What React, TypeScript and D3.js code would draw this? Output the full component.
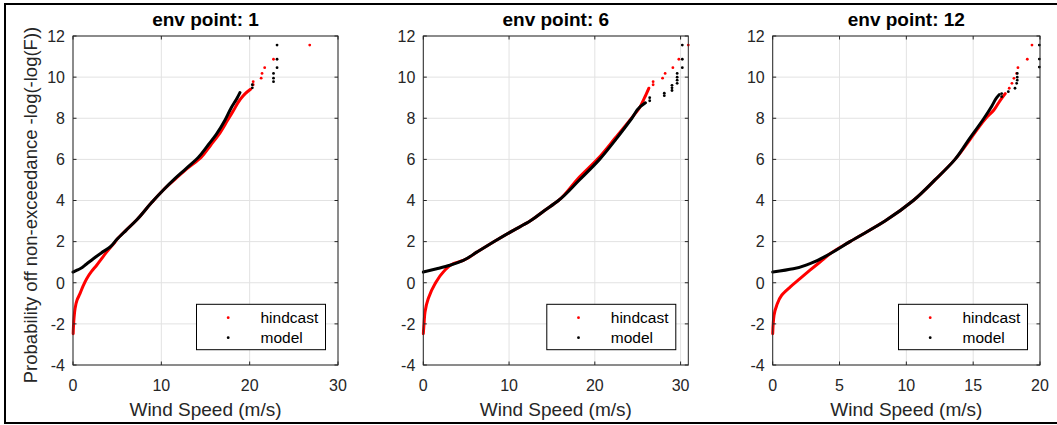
import React from 'react';
import * as d3 from 'd3';

type Pt = [number, number];

// ---------- data ----------
const titles = ['env point: 1', 'env point: 6', 'env point: 12'];
const xMaxes = [30, 30.9, 20];
const xTickValues = [
  [0, 10, 20, 30],
  [0, 10, 20, 30],
  [0, 5, 10, 15, 20],
];
const yTickValues = [-4, -2, 0, 2, 4, 6, 8, 10, 12];
const seriesNames = ['hindcast', 'model'];
const seriesColors = ['#ff0000', '#000000'];

// env point 1
const hindcast1Line: Pt[] = [
  [0.02, -2.48], [0.11, -1.75], [0.23, -1.26], [0.45, -0.85], [0.79, -0.53], [1.15, -0.15],
  [1.55, 0.2], [2.1, 0.55], [2.68, 0.85], [3.2, 1.15], [3.8, 1.49], [4.3, 1.75], [4.76, 1.98],
  [5.0, 2.12], [6.0, 2.55], [7.2, 3.05], [8.9, 3.9], [10.2, 4.5], [11.6, 5.05], [12.9, 5.55],
  [14.5, 6.1], [15.6, 6.7], [16.5, 7.2], [17.5, 7.9], [18.2, 8.4], [18.9, 8.9], [19.5, 9.2],
  [20.1, 9.41],
];
const hindcast1Tail: Pt[] = [
  [20.4, 9.63], [20.4, 9.78], [21.3, 9.95], [21.4, 10.18], [21.7, 10.46], [22.7, 10.87], [26.8, 11.56],
];
const model1Line: Pt[] = [
  [0, 0.52], [0.4, 0.6], [0.8, 0.68], [1.5, 0.9], [2.3, 1.17], [3.2, 1.45], [4.2, 1.74],
  [4.95, 2.1], [6.0, 2.55], [7.2, 3.05], [8.9, 3.9], [10.2, 4.5], [11.5, 5.05], [12.8, 5.55],
  [14.2, 6.1], [15.3, 6.7], [16.2, 7.2], [17.2, 7.9], [17.9, 8.5], [18.6, 9.0], [18.9, 9.25],
];
const model1Tail: Pt[] = [
  [20.3, 9.48], [20.3, 9.63], [22.7, 9.78], [22.7, 9.95], [22.7, 10.18], [23.1, 10.46],
  [23.1, 10.87], [23.1, 11.56],
];

// env point 6
const hindcast6Line: Pt[] = [
  [0, -2.48], [0.1, -1.9], [0.2, -1.42], [0.58, -0.77], [1.37, -0.05], [2.33, 0.52], [3.5, 0.93],
  [4.67, 1.09], [6.23, 1.49], [8.17, 1.98], [10.3, 2.5], [12.45, 3.0], [14.1, 3.5], [15.76, 4.0],
  [18.0, 5.05], [20.4, 6.05], [22.4, 7.05], [24.3, 8.02], [25.2, 8.5], [25.8, 9.0], [26.3, 9.46],
];
const hindcast6Tail: Pt[] = [
  [26.8, 9.63], [26.8, 9.78], [27.9, 9.95], [28.2, 10.18], [29.1, 10.46], [29.8, 10.87], [30.9, 11.56],
];
const model6Line: Pt[] = [
  [0, 0.52], [1.56, 0.68], [3.1, 0.85], [4.67, 1.09], [6.23, 1.49], [8.17, 1.98], [10.3, 2.5],
  [12.45, 3.0], [14.1, 3.5], [15.76, 4.0], [18.2, 5.0], [20.55, 6.0], [22.5, 7.0], [24.32, 8.0],
  [25.3, 8.56], [25.9, 8.75],
];
const model6Tail: Pt[] = [
  [26.4, 8.85], [26.4, 9.0], [28.1, 9.1], [28.1, 9.22], [29.0, 9.35], [29.0, 9.48], [29.0, 9.6],
  [29.6, 9.7], [29.6, 9.85], [29.6, 10.0], [29.6, 10.18], [30.2, 10.46], [30.2, 10.87], [30.2, 11.56],
];

// env point 12
const hindcast12Line: Pt[] = [
  [0, -2.48], [0.1, -1.58], [0.3, -1.1], [0.67, -0.61], [1.3, -0.21], [2.04, 0.2], [2.79, 0.61],
  [3.54, 1.01], [4.29, 1.41], [5.78, 2.0], [8.4, 3.0], [10.52, 4.0], [12.14, 5.0], [13.64, 6.0],
  [14.8, 7.0], [15.35, 7.5], [15.95, 8.0], [16.55, 8.4], [17.0, 8.85], [17.4, 9.2],
];
const hindcast12Tail: Pt[] = [
  [17.7, 9.46], [17.9, 9.7], [18.05, 9.94], [18.25, 10.18], [18.35, 10.46], [19.05, 10.87], [19.4, 11.56],
];
const model12Line: Pt[] = [
  [0, 0.52], [1.54, 0.68], [2.79, 0.93], [4.29, 1.41], [5.78, 2.0], [8.4, 3.0], [10.52, 4.0],
  [12.14, 5.0], [13.64, 6.0], [14.71, 7.0], [15.81, 8.0], [16.4, 8.6], [16.76, 9.0], [16.95, 9.15],
];
const model12Tail: Pt[] = [
  [17.13, 9.05], [17.13, 9.2], [17.63, 9.29], [18.13, 9.46], [18.25, 9.7], [18.3, 9.85],
  [18.3, 10.0], [18.3, 10.18], [19.95, 10.49], [19.95, 10.88], [19.95, 11.56],
];

const panelLines: Pt[][][] = [
  [hindcast1Line, model1Line],
  [hindcast6Line, model6Line],
  [hindcast12Line, model12Line],
];
const panelTails: Pt[][][] = [
  [hindcast1Tail, model1Tail],
  [hindcast6Tail, model6Tail],
  [hindcast12Tail, model12Tail],
];

// ---------- layout ----------
const W = 1057;
const H = 425;
const axLefts = [73, 423.3, 772.7];
const axRights = [338, 688.3, 1040];
const axTop = 36;
const axBottom = 365;
const FONT = '"Liberation Sans", Arial, Helvetica, sans-serif';
const AX_COLOR = '#262626';
const GRID = '#e2e2e2';

function Panel({ i }: { i: number }) {
  const x = d3.scaleLinear().domain([0, xMaxes[i]]).range([axLefts[i], axRights[i]]);
  const y = d3.scaleLinear().domain([-4, 12]).range([axBottom, axTop]);
  const L = axLefts[i];
  const R = axRights[i];
  const line = d3
    .line<Pt>()
    .x((d) => x(d[0]))
    .y((d) => y(d[1]))
    .curve(d3.curveMonotoneY);
  const clipId = `clip${i}`;
  const cx = (L + R) / 2;
  const tickLen = 3.5;
  const lgLeft = R - 141.5;
  const lgTop = axBottom - 60.7;
  const lgW = 129;
  const lgH = 45.4;
  return (
    <g>
      <defs>
        <clipPath id={clipId}>
          <rect x={L - 2} y={axTop - 3} width={R - L + 4} height={axBottom - axTop + 3} />
        </clipPath>
      </defs>
      {/* grid */}
      {xTickValues[i].map((t) => (
        <line key={'gx' + t} x1={x(t)} x2={x(t)} y1={axTop} y2={axBottom} stroke={GRID} strokeWidth={1} />
      ))}
      {yTickValues.map((t) => (
        <line key={'gy' + t} x1={L} x2={R} y1={y(t)} y2={y(t)} stroke={GRID} strokeWidth={1} />
      ))}
      {/* data */}
      <g clipPath={`url(#${clipId})`}>
        {panelLines[i].map((pts, s) => (
          <path
            key={'l' + s}
            d={line(pts) || ''}
            fill="none"
            stroke={seriesColors[s]}
            strokeWidth={3}
            strokeLinecap="round"
            strokeLinejoin="round"
          />
        ))}
        {panelTails[i].map((pts, s) =>
          pts.map((p, k) => (
            <circle key={'t' + s + '-' + k} cx={x(p[0])} cy={y(p[1])} r={1.4} fill={seriesColors[s]} />
          ))
        )}
      </g>
      {/* axes box */}
      <rect x={L} y={axTop} width={R - L} height={axBottom - axTop} fill="none" stroke={AX_COLOR} strokeWidth={1} />
      {xTickValues[i].map((t) => (
        <g key={'tx' + t}>
          <line x1={x(t)} x2={x(t)} y1={axBottom} y2={axBottom - tickLen} stroke={AX_COLOR} />
          <line x1={x(t)} x2={x(t)} y1={axTop} y2={axTop + tickLen} stroke={AX_COLOR} />
          <text x={x(t)} y={391} textAnchor="middle" fontSize={16} fill={AX_COLOR} fontFamily={FONT}>
            {t}
          </text>
        </g>
      ))}
      {yTickValues.map((t) => (
        <g key={'ty' + t}>
          <line x1={L} x2={L + tickLen} y1={y(t)} y2={y(t)} stroke={AX_COLOR} />
          <line x1={R} x2={R - tickLen} y1={y(t)} y2={y(t)} stroke={AX_COLOR} />
          <text x={L - 8} y={y(t) + 5.8} textAnchor="end" fontSize={16} fill={AX_COLOR} fontFamily={FONT}>
            {t}
          </text>
        </g>
      ))}
      {/* title */}
      <text x={cx} y={26} textAnchor="middle" fontSize={19} fontWeight="bold" fill="#000" fontFamily={FONT}>
        {titles[i]}
      </text>
      {/* x label */}
      <text x={cx} y={416} textAnchor="middle" fontSize={19} fill={AX_COLOR} fontFamily={FONT}>
        Wind Speed (m/s)
      </text>
      {/* legend */}
      <rect x={lgLeft} y={lgTop} width={lgW} height={lgH} fill="#fff" stroke="#000" strokeWidth={1} />
      {seriesNames.map((nm, s) => (
        <g key={'lg' + s}>
          <circle cx={lgLeft + 31.7} cy={lgTop + 13.4 + s * 20} r={1.4} fill={seriesColors[s]} />
          <text x={lgLeft + 64} y={lgTop + 13.4 + s * 20 + 5.5} fontSize={15.5} fill="#000" fontFamily={FONT}>
            {nm}
          </text>
        </g>
      ))}
    </g>
  );
}

export default function App() {
  return (
    <svg
      width={W}
      height={H}
      style={{ position: 'absolute', left: 0, top: 0, background: '#fff' }}
      xmlns="http://www.w3.org/2000/svg"
    >
      <rect x={0} y={0} width={W} height={H} fill="#fff" />
      <rect x={5} y={4} width={W + 10} height={419} fill="none" stroke="#000" strokeWidth={2} />
      {[0, 1, 2].map((i) => (
        <Panel key={i} i={i} />
      ))}
      <text
        transform={`translate(37, 205) rotate(-90)`}
        textAnchor="middle"
        fontSize={18.5}
        fill={AX_COLOR}
        fontFamily={FONT}
      >
        Probability off non-exceedance -log(-log(F))
      </text>
    </svg>
  );
}
